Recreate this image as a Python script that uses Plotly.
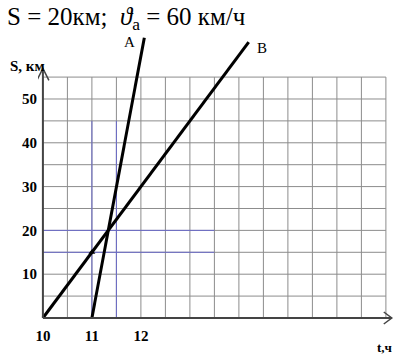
import plotly.graph_objects as go

# ---- data ----
tA = [11.0, 12.07]      # hours
sA = [0.0, 64.0]        # km
tB = [10.0, 14.2]
sB = [0.0, 63.0]
mark_t = [11.0]
mark_s = [15.0]
x_ticks = [10, 11, 12]
x_ticktext = ["10", "11", "12"]
y_ticks = [10, 20, 30, 40, 50]
y_ticktext = ["10", "20", "30", "40", "50"]
grid_x = [10 + 0.5 * i for i in range(15)]   # 10 .. 17
grid_y = [5 * i for i in range(12)]          # 0 .. 55
blue_x = [11.0, 11.5]
blue_y = [15, 20]

SERIF = "Liberation Serif"
PX_X = 49.0     # pixels per hour
PX_Y = 4.38     # pixels per km
GRAY = "#8c8c8c"
BLUE = "#6a6ac8"

fig = go.Figure()

shapes = []
# grid (gray graph paper)
for gx in grid_x:
    shapes.append(dict(type="line", xref="x", yref="y", x0=gx, x1=gx, y0=0, y1=55,
                       line=dict(color=GRAY, width=1), layer="below"))
for gy in grid_y[1:]:
    shapes.append(dict(type="line", xref="x", yref="y", x0=10, x1=17, y0=gy, y1=gy,
                       line=dict(color=GRAY, width=1), layer="below"))
# bluish segments
for gx in blue_x:
    shapes.append(dict(type="line", xref="x", yref="y", x0=gx, x1=gx, y0=0, y1=45,
                       line=dict(color=BLUE, width=1), layer="below"))
for gy in blue_y:
    shapes.append(dict(type="line", xref="x", yref="y", x0=10, x1=13.5, y0=gy, y1=gy,
                       line=dict(color=BLUE, width=1), layer="below"))

# axes with open arrowheads
x_end, y_end = 17.12, 57.0
shapes.append(dict(type="line", xref="x", yref="y", x0=10, x1=x_end, y0=0, y1=0,
                   line=dict(color="#444444", width=2)))
shapes.append(dict(type="line", xref="x", yref="y", x0=10, x1=10, y0=0, y1=y_end,
                   line=dict(color="#444444", width=2)))
dx, dy = 8 / PX_X, 6 / PX_Y
shapes.append(dict(type="path", xref="x", yref="y",
                   path=f"M {x_end-dx} {dy} L {x_end} 0 L {x_end-dx} {-dy}",
                   line=dict(color="#444444", width=1.5)))
dx2, dy2 = 6 / PX_X, 12 / PX_Y
shapes.append(dict(type="path", xref="x", yref="y",
                   path=f"M {10-dx2} {y_end-dy2} L 10 {y_end} L {10+dx2} {y_end-dy2}",
                   line=dict(color="#444444", width=1.5)))

fig.add_trace(go.Scatter(x=tA, y=sA, mode="lines", line=dict(color="black", width=3),
                         cliponaxis=False, showlegend=False, hoverinfo="skip"))
fig.add_trace(go.Scatter(x=tB, y=sB, mode="lines", line=dict(color="black", width=3),
                         cliponaxis=False, showlegend=False, hoverinfo="skip"))
fig.add_trace(go.Scatter(x=mark_t, y=mark_s, mode="markers",
                         marker=dict(color="black", size=6, symbol="triangle-up"),
                         cliponaxis=False, showlegend=False, hoverinfo="skip"))

annotations = [
    dict(xref="x", yref="y", x=tA[-1], y=sA[-1], text="A", showarrow=False,
         xshift=-15, yshift=-4, font=dict(family=SERIF, size=15, color="black")),
    dict(xref="x", yref="y", x=tB[-1], y=sB[-1], text="B", showarrow=False,
         xshift=13, yshift=-6, font=dict(family=SERIF, size=15, color="black")),
    dict(xref="x", yref="y", x=10, y=57.5, text="<b>S, км</b>", showarrow=False,
         xanchor="right", xshift=4, font=dict(family=SERIF, size=15, color="black")),
    dict(xref="paper", yref="paper", x=0.97, y=-0.075, text="<b>t,ч</b>", showarrow=False,
         xanchor="center", yanchor="middle", borderpad=0,
         font=dict(family=SERIF, size=13, color="black")),
    dict(xref="paper", yref="paper", x=0, y=1, xanchor="left", yanchor="middle",
         xshift=-33, yshift=12,
         text="S = 20км;  <i>ϑ</i><sub>a</sub> = 60 км/ч", showarrow=False,
         font=dict(family=SERIF, size=25, color="black")),
]

L, R, T, B = 38, 5, 30, 30
W, H = 400, 355
x0 = 9.9
x1 = x0 + (W - L - R) / PX_X
y0 = -1.6
y1 = y0 + (H - T - B) / PX_Y

fig.update_layout(
    width=W, height=H,
    margin=dict(l=L, r=R, t=T, b=B),
    paper_bgcolor="white", plot_bgcolor="white",
    shapes=shapes, annotations=annotations,
    xaxis=dict(range=[x0, x1], showgrid=False, zeroline=False, showline=False,
               tickvals=x_ticks, ticktext=x_ticktext, ticks="",
               tickfont=dict(family=SERIF, size=15, color="black", weight="bold")),
    yaxis=dict(range=[y0, y1], showgrid=False, zeroline=False, showline=False,
               tickvals=y_ticks, ticktext=y_ticktext, ticks="",
               tickfont=dict(family=SERIF, size=15, color="black", weight="bold")),
)

fig.write_html("out.html", config={"displayModeBar": False},
               post_script="document.body.style.margin='0';document.body.style.overflow='hidden';")
